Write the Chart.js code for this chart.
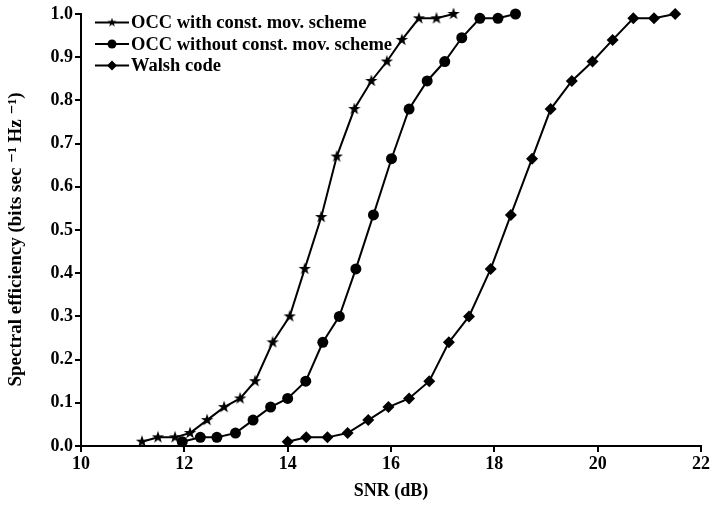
<!DOCTYPE html>
<html>
<head>
<meta charset="utf-8">
<script src="https://cdn.jsdelivr.net/npm/chart.js@4"></script>
<style>
html,body{margin:0;padding:0;background:#fff;}
#wrap{width:712px;height:506px;position:relative;}
</style>
</head>
<body>
<div id="wrap"><canvas id="c" width="712" height="506"></canvas></div>
<script>
// ---- data ----
const seriesNames = ["OCC with const. mov. scheme", "OCC without const. mov. scheme", "Walsh code"];

const snrWith = [11.18, 11.49, 11.82, 12.11, 12.44, 12.77, 13.08, 13.37, 13.71, 14.04,
                 14.33, 14.65, 14.95, 15.29, 15.62, 15.92, 16.21, 16.54, 16.88, 17.21];
const effWith = [0.01, 0.02, 0.02, 0.03, 0.06, 0.09, 0.11, 0.15, 0.24, 0.30,
                 0.41, 0.53, 0.67, 0.78, 0.845, 0.89, 0.94, 0.99, 0.99, 1.00];

const snrWithout = [11.96, 12.31, 12.63, 12.99, 13.33, 13.67, 14.00, 14.35, 14.68, 15.00,
                    15.32, 15.66, 16.01, 16.35, 16.70, 17.04, 17.37, 17.72, 18.07, 18.41];
const effWithout = [0.01, 0.02, 0.02, 0.03, 0.06, 0.09, 0.11, 0.15, 0.24, 0.30,
                    0.41, 0.535, 0.665, 0.78, 0.845, 0.89, 0.945, 0.99, 0.99, 1.00];

const snrWalsh = [14.00, 14.36, 14.77, 15.16, 15.56, 15.95, 16.35, 16.74, 17.12, 17.51,
                  17.93, 18.32, 18.73, 19.09, 19.50, 19.90, 20.29, 20.69, 21.09, 21.50];
const effWalsh = [0.01, 0.02, 0.02, 0.03, 0.06, 0.09, 0.11, 0.15, 0.24, 0.30,
                  0.41, 0.535, 0.665, 0.78, 0.845, 0.89, 0.94, 0.99, 0.99, 1.00];

const xTicks = [10, 12, 14, 16, 18, 20, 22];
const yTicks = [0.0, 0.1, 0.2, 0.3, 0.4, 0.5, 0.6, 0.7, 0.8, 0.9, 1.0];

// ---- star marker image ----
function starImage(size, outer, inner) {
  const cv = document.createElement('canvas');
  cv.width = size; cv.height = size;
  const g = cv.getContext('2d');
  const c = size / 2;
  g.beginPath();
  for (let i = 0; i < 10; i++) {
    const r = i % 2 === 0 ? outer : inner;
    const a = -Math.PI / 2 + i * Math.PI / 5;
    const px = c + r * Math.cos(a), py = c + r * Math.sin(a);
    if (i === 0) g.moveTo(px, py); else g.lineTo(px, py);
  }
  g.closePath();
  g.fillStyle = '#000';
  g.fill();
  return cv;
}
const starImg = starImage(14, 6.5, 2.6);
const starImgSmall = starImage(10, 4.8, 1.9);

function pts(xs, ys) { return xs.map((x, i) => ({x: x, y: ys[i]})); }

const serif = "'Liberation Serif', 'DejaVu Serif', serif";

const datasets = [
  {label: seriesNames[0], data: pts(snrWith, effWith), pointStyle: starImg, pointRadius: 6, legendStyle: starImgSmall, legendRadius: 5},
  {label: seriesNames[1], data: pts(snrWithout, effWithout), pointStyle: 'circle', pointRadius: 5.5, legendStyle: 'circle', legendRadius: 4.5},
  {label: seriesNames[2], data: pts(snrWalsh, effWalsh), pointStyle: 'rectRot', pointRadius: 6, legendStyle: 'rectRot', legendRadius: 5}
].map(d => Object.assign({
  borderColor: '#000', backgroundColor: '#000', borderWidth: 2,
  pointBackgroundColor: '#000', pointBorderColor: '#000', pointBorderWidth: 0,
  pointHoverRadius: 6, tension: 0, fill: false, clip: false
}, d));

const legendPlugin = {
  id: 'lineLegend',
  afterDraw(chart) {
    const ctx = chart.ctx;
    ctx.save();
    chart.data.datasets.forEach((ds, i) => {
      const y = 22.5 + i * 21.5;
      ctx.strokeStyle = '#000';
      ctx.lineWidth = 2;
      ctx.beginPath();
      ctx.moveTo(95, y); ctx.lineTo(129, y); ctx.stroke();
      ctx.fillStyle = '#000';
      Chart.helpers.drawPoint(ctx, {pointStyle: ds.legendStyle, radius: ds.legendRadius, rotation: 0, borderWidth: 0}, 112, y);
      ctx.fillStyle = '#000';
      ctx.font = "bold 18.5px " + serif;
      ctx.textBaseline = 'middle';
      ctx.textAlign = 'left';
      ctx.fillText(ds.label, 131, y + 1);
    });
    ctx.restore();
  }
};

new Chart(document.getElementById('c'), {
  type: 'line',
  data: {datasets: datasets},
  plugins: [legendPlugin],
  options: {
    responsive: false,
    animation: false,
    events: [],
    layout: {padding: {top: 14, right: 9, left: 0, bottom: 0}},
    plugins: {legend: {display: false}, tooltip: {enabled: false}},
    scales: {
      x: {
        type: 'linear', min: 10, max: 22,
        afterBuildTicks(s) { s.ticks = xTicks.map(v => ({value: v})); },
        afterFit(s) { s.height = 60; },
        border: {color: '#000', width: 2},
        grid: {drawOnChartArea: false, drawTicks: true, tickLength: 6, color: '#000', lineWidth: 2},
        ticks: {color: '#000', font: {family: serif, size: 18, weight: 'bold'}, padding: 2, maxRotation: 0,
                callback: v => String(v)},
        title: {display: true, text: 'SNR (dB)', color: '#000', font: {family: serif, size: 18, weight: 'bold'}, padding: {top: 2}}
      },
      y: {
        type: 'linear', min: 0, max: 1,
        afterBuildTicks(s) { s.ticks = yTicks.map(v => ({value: v})); },
        afterFit(s) { s.width = 81; },
        border: {color: '#000', width: 2},
        grid: {drawOnChartArea: false, drawTicks: true, tickLength: 6, color: '#000', lineWidth: 2},
        ticks: {color: '#000', font: {family: serif, size: 18, weight: 'bold'}, padding: 2,
                callback: v => Number(v).toFixed(1)},
        title: {display: true, text: 'Spectral efficiency (bits sec \u207B\u00B9 Hz \u207B\u00B9)    ', color: '#000',
                font: {family: serif, size: 19, weight: 'bold'}, padding: {top: 5, bottom: 0}}
      }
    }
  }
});
</script>
</body>
</html>
